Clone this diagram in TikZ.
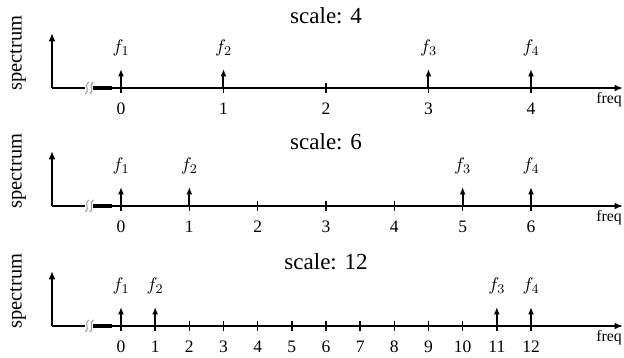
\documentclass[tikz,border=0pt]{standalone}
\usepackage{fontspec}
\setmainfont{Liberation Serif}
\usetikzlibrary{arrows.meta}
\begin{document}
\begin{tikzpicture}[x=0.6pt,y=-0.6pt,
  axisline/.style={line width=1.2pt},
  thickseg/.style={line width=2.2pt},
  brk/.style={line width=0.6pt,draw=gray!80},
  tickmark/.style={line width=0.9pt},
  spike/.style={line width=1.2pt,-{Latex[length=4.5pt,width=3.6pt]}},
  axarrow/.style={axisline,-{Latex[length=5pt,width=4pt]}},
  ttl/.style={font=\fontsize{13.8}{15}\selectfont},
  ylab/.style={font=\fontsize{12.3}{14}\selectfont,rotate=90},
  xlab/.style={font=\fontsize{9.5}{10}\selectfont},
  ticklab/.style={font=\fontsize{10.5}{12}\selectfont},
  flab/.style={font=\fontsize{11}{12}\selectfont}]
\useasboundingbox (0,0) rectangle (624,358);
\foreach \yb/\n/\pa/\pb/\pc/\pd/\ti [count=\i] in {88/4/0/1/3/4/16, 206/6/0/1/5/6/142, 326/12/0/1/11/12/262} {
  \pgfmathsetmacro\dx{410/\n}
  \node[ttl] (title\i) at (326,\ti) {scale: \n};
  \node[ylab] (ylab\i) at (18,\yb-35) {spectrum};
  \node[xlab] (xlab\i) at (609,\yb+12) {freq};
  \coordinate (o\i) at (52,\yb);
  \coordinate (yt\i) at (52,\yb-55);
  \coordinate (b\i) at (85,\yb);
  \coordinate (c\i) at (93,\yb);
  \coordinate (d\i) at (112,\yb);
  \coordinate (xe\i) at (623,\yb);
  \draw[axarrow] (o\i) -- (yt\i);
  \draw[axisline] (o\i) -- (b\i);
  \draw[thickseg] (c\i) -- (d\i);
  \draw[axarrow] (d\i) -- (xe\i);
  \foreach \bx in {87,91.5}{
    \draw[brk] (\bx+2,\yb-6) .. controls (\bx-4,\yb-2) and (\bx+4,\yb+2) .. (\bx-2,\yb+6);
  }
  \foreach \k in {0,...,\n}{
    \coordinate (tk\i-\k) at (121+\k*\dx,\yb);
    \draw[tickmark] ([yshift=-3pt]tk\i-\k) -- ([yshift=3pt]tk\i-\k);
    \node[ticklab] (tl\i-\k) at (121+\k*\dx,\yb+21) {\k};
  }
  \foreach \p [count=\j] in {\pa,\pb,\pc,\pd}{
    \coordinate (sp\i-\j) at (121+\p*\dx,\yb-19);
    \draw[spike] (tk\i-\p) -- (sp\i-\j);
    \node[flab] (f\i-\j) at (121+\p*\dx,\yb-40) {$f_{\j}$};
  }
}
\end{tikzpicture}
\end{document}
